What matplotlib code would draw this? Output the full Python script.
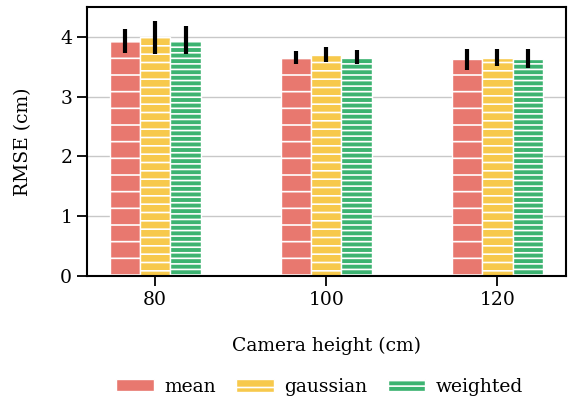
import numpy as np
import matplotlib
matplotlib.use("Agg")
import matplotlib.pyplot as plt

heights = ["80", "100", "120"]
methods = ["mean", "gaussian", "weighted"]
rmse = {
    "mean":     [3.93, 3.65, 3.62],
    "gaussian": [3.99, 3.70, 3.65],
    "weighted": [3.95, 3.66, 3.63],
}
err = {
    "mean":     [0.20, 0.11, 0.18],
    "gaussian": [0.27, 0.125, 0.145],
    "weighted": [0.235, 0.12, 0.16],
}
colors = {"mean": "#e8786f", "gaussian": "#f7c94c", "weighted": "#3cb371"}
hatches = {"mean": "-", "gaussian": "--", "weighted": "---"}

plt.rcParams["font.family"] = "DejaVu Serif"
plt.rcParams["hatch.linewidth"] = 1.2

fig = plt.figure(figsize=(5.75, 4.03), dpi=100)
ax = fig.add_axes([0.151, 0.315, 0.833, 0.668])

x = np.arange(len(heights))
w = 0.177
for i, m in enumerate(methods):
    ax.bar(x + (i - 1) * w, rmse[m], w, color=colors[m], edgecolor="white",
           hatch=hatches[m], linewidth=1.0, label=m, zorder=2)
    ax.errorbar(x + (i - 1) * w, rmse[m], yerr=err[m], fmt="none",
                ecolor="black", elinewidth=3, capsize=0, zorder=3)

ax.set_xlim(-0.4, 2.4)
ax.set_ylim(0, 4.5)
ax.set_xticks(x)
ax.set_xticklabels(heights)
ax.set_yticks([0, 1, 2, 3, 4])
ax.tick_params(labelsize=13.5, length=7, width=1.3)
ax.yaxis.grid(True, color="#c8c8c8", linewidth=1.0, zorder=0)
ax.set_axisbelow(True)
for s in ax.spines.values():
    s.set_linewidth(1.5)
ax.set_xlabel("Camera height (cm)", fontsize=13.5, labelpad=20)
ax.set_ylabel("RMSE (cm)", fontsize=13.5, labelpad=20)

fig.legend(loc="lower center", ncol=3, frameon=False, fontsize=13.5,
           bbox_to_anchor=(0.556, -0.025), handlelength=2.0,
           handletextpad=0.55, columnspacing=1.1)

fig.savefig("out.png", dpi=100)
